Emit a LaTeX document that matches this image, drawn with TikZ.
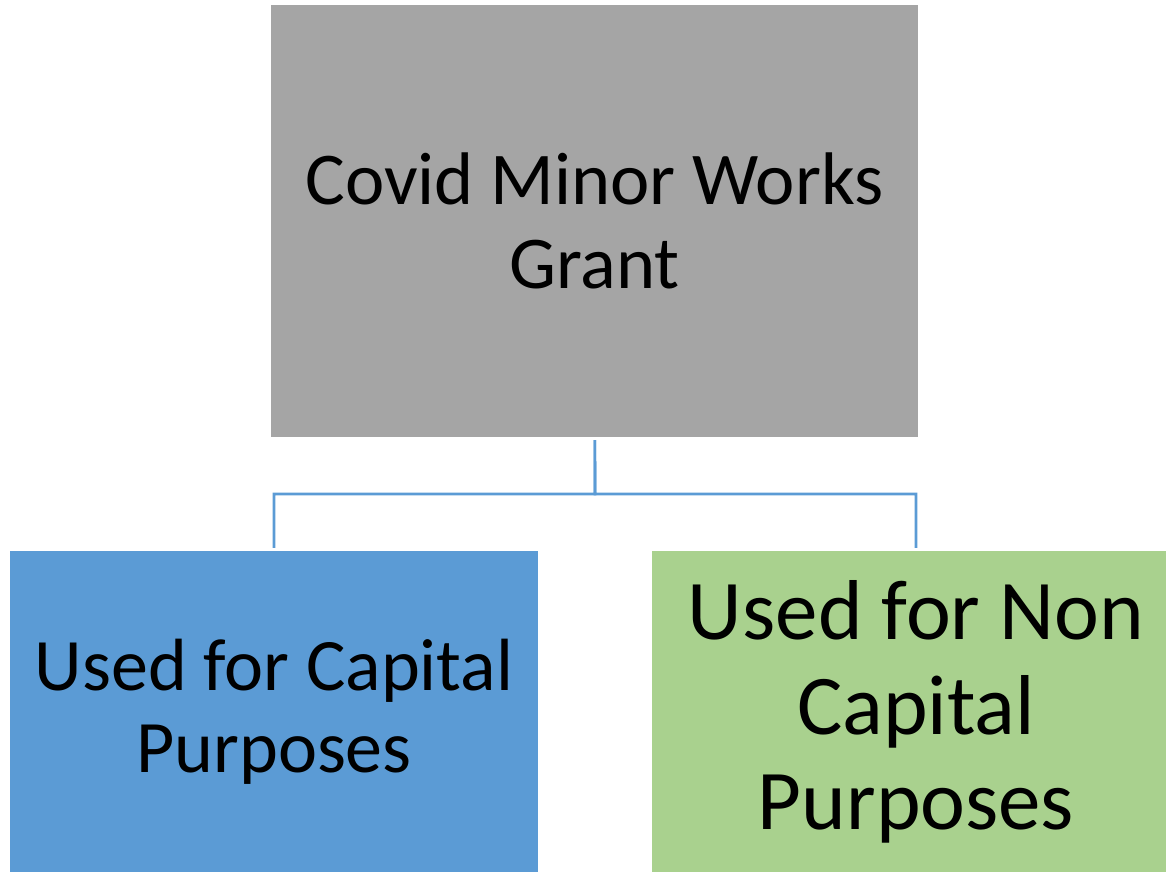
\documentclass[tikz,border=0pt]{standalone}
\usepackage{fontspec}
\setmainfont{Carlito}
\usepackage{tikz}

\definecolor{grantgray}{HTML}{A5A5A5}
\definecolor{capblue}{HTML}{5B9BD5}
\definecolor{noncapgreen}{HTML}{A9D18E}

\begin{document}
\begin{tikzpicture}[x=1pt,y=-1pt]
\tikzset{block/.style = {shape=rectangle,inner sep=0pt,align=center,text=black}}
\tikzset{link/.style = {draw=capblue,line width=2.6pt,shorten <=3pt,shorten >=3pt}}
\useasboundingbox (0,0) rectangle (1166,872);
% boxes
\node[block,fill=grantgray,minimum width=647pt,minimum height=432pt,
  font=\fontsize{74.5}{84}\selectfont] (grant) at (594.5,221) {Covid Minor Works\\Grant};
\node[block,fill=capblue,minimum width=528pt,minimum height=321pt,
  font=\fontsize{74}{82}\selectfont] (cap) at (274,711.5) {Used for Capital\\Purposes};
\node[block,fill=noncapgreen,minimum width=528pt,minimum height=321pt,
  font=\fontsize{85}{95}\selectfont] (noncap) at (916,711.5) {Used for Non\\Capital\\Purposes};
\coordinate (bus) at (595,494);

%edges
\draw[link] (grant) -- (bus) -| (cap);
\draw[link] (grant) -- (bus) -| (noncap);
\end{tikzpicture}
\end{document}
